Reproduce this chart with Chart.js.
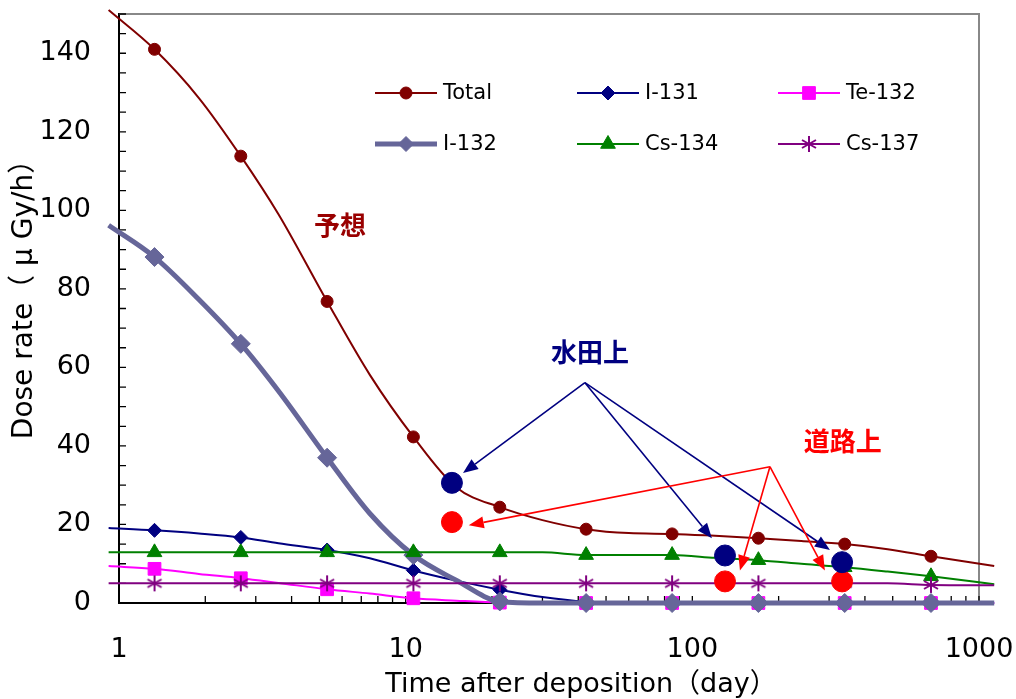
<!DOCTYPE html>
<html>
<head>
<meta charset="utf-8">
<script src="https://cdn.jsdelivr.net/npm/chart.js@4.4.0/dist/chart.umd.min.js"></script>
<style>
  html, body { margin: 0; padding: 0; background: #fff; }
  #wrap { width: 1016px; height: 699px; }
</style>
</head>
<body>
<div id="wrap"><canvas id="doseChart"></canvas></div>
<script>
// days after deposition (line points; markers only on some of them)
var days = [0.92, 1.33, 1.9, 2.66, 3.6, 5.32, 7.5, 10.64, 15, 21.3, 30, 42.6, 60, 85, 120, 170, 240, 340, 480, 680, 1130];
var markerIdx = [1, 3, 5, 7, 9, 11, 13, 15, 17, 19];

var total  = [151, 141, 128.6, 113.8, 99, 76.8, 58.1, 42.3, 29.5, 24.4, 21.1, 18.8, 17.8, 17.6, 17.1, 16.5, 15.8, 15.0, 13.7, 11.9, 9.4];
var i131   = [19.1, 18.5, 17.7, 16.7, 15.2, 13.5, 11.4, 8.3, 5.7, 3.4, 1.5, 0.3, 0, 0, 0, 0, 0, 0, 0, 0, 0];
var te132  = [9.4, 8.7, 7.4, 6.3, 5.1, 3.5, 2.4, 1.2, 0.6, 0.1, 0, 0, 0, 0, 0, 0, 0, 0, 0, 0, 0];
var i132   = [96.2, 88.1, 77.3, 66, 54, 37, 22.8, 12.2, 5.8, 0.4, 0, 0, 0, 0, 0, 0, 0, 0, 0, 0, 0];
var cs134  = [12.9, 12.9, 12.9, 12.9, 12.9, 12.9, 12.9, 12.9, 12.9, 12.9, 12.9, 12.2, 12.2, 12.2, 11.5, 10.9, 10.0, 9.1, 8.0, 6.8, 4.8];
var cs137  = [5.0, 5.0, 5.0, 5.0, 5.0, 5.0, 5.0, 5.0, 5.0, 5.0, 5.0, 5.0, 5.0, 5.0, 5.0, 5.0, 5.0, 5.0, 5.0, 4.6, 4.5];

// measured values
var obsDays = [14.5, 130, 333];
var paddy   = [30.6, 12.1, 10.4];   // 水田上
var road    = [20.6, 5.5, 5.5];     // 道路上

var xTicks = [1, 10, 100, 1000];
var yTicks = [0, 20, 40, 60, 80, 100, 120, 140];

// annotations in data coordinates
var notes = [
  { text: '予想', x: 5.9, y: 96.2, color: '#990000' },
  { text: '水田上', x: 44, y: 64, color: '#000080' },
  { text: '道路上', x: 335, y: 41.3, color: '#FF0000' }
];
var paddyFrom = [42.2, 56.1];
var paddyTo = [[15.85, 33.1], [117, 16.5], [302, 13.5]];
var roadFrom = [186.5, 34.7];
var roadTo = [[16.6, 19.8], [146.6, 8.3], [290, 8.3]];

var numFont = '"DejaVu Sans", "Noto Sans CJK JP", sans-serif';
var jpFont = '"Noto Sans CJK JP", "DejaVu Sans", sans-serif';

// excel-like asterisk marker
var starImg = document.createElement('canvas');
starImg.width = 18; starImg.height = 18;
(function() {
  var c = starImg.getContext('2d');
  c.strokeStyle = '#800080';
  c.lineWidth = 2;
  c.beginPath();
  c.moveTo(9, 1); c.lineTo(9, 17);
  c.moveTo(2, 5); c.lineTo(16, 13);
  c.moveTo(2, 13); c.lineTo(16, 5);
  c.stroke();
})();

function series(label, values, color, style, radius, width, order) {
  return {
    label: label,
    data: days.map(function(d, i) { return { x: d, y: values[i] }; }),
    borderColor: color,
    backgroundColor: color,
    borderWidth: width,
    pointStyle: style,
    pointRadius: days.map(function(d, i) { return markerIdx.indexOf(i) >= 0 ? radius : 0; }),
    pointBorderWidth: 1,
    pointHoverRadius: 0,
    cubicInterpolationMode: 'monotone',
    clip: false,
    order: order
  };
}

function observed(label, values, color) {
  return {
    label: label,
    data: obsDays.map(function(d, i) { return { x: d, y: values[i] }; }),
    showLine: false,
    backgroundColor: color,
    borderColor: color,
    pointRadius: 10.5,
    pointHoverRadius: 10.5,
    clip: false,
    order: 0
  };
}

var datasets = [
  series('Total', total, '#800000', 'circle', 6, 2, 7),
  series('I-131', i131, '#000080', 'rectRot', 7, 2, 6),
  series('Te-132', te132, '#FF00FF', 'rect', 9, 2, 5),
  series('I-132', i132, '#666699', 'rectRot', 9.5, 5, 4),
  series('Cs-134', cs134, '#008000', 'triangle', 8.5, 2, 3),
  series('Cs-137', cs137, '#800080', starImg, 8, 2, 2),
  observed('水田上', paddy, '#000080'),
  observed('道路上', road, '#FF0000')
];

var legendPos = [
  { idx: 0, x: 375, y: 93 }, { idx: 1, x: 577, y: 93 }, { idx: 2, x: 778, y: 93 },
  { idx: 3, x: 375, y: 144 }, { idx: 4, x: 577, y: 144 }, { idx: 5, x: 778, y: 144 }
];

function drawArrow(ctx, x1, y1, x2, y2, color) {
  var ang = Math.atan2(y2 - y1, x2 - x1);
  var hl = 15, hw = 6;
  var bx = x2 - hl * Math.cos(ang), by = y2 - hl * Math.sin(ang);
  ctx.strokeStyle = color;
  ctx.fillStyle = color;
  ctx.lineWidth = 1.6;
  ctx.beginPath();
  ctx.moveTo(x1, y1);
  ctx.lineTo(bx, by);
  ctx.stroke();
  ctx.beginPath();
  ctx.moveTo(x2, y2);
  ctx.lineTo(bx + hw * Math.sin(ang), by - hw * Math.cos(ang));
  ctx.lineTo(bx - hw * Math.sin(ang), by + hw * Math.cos(ang));
  ctx.closePath();
  ctx.fill();
}

var framePlugin = {
  id: 'frame',
  beforeDatasetsDraw: function(chart) {
    var ctx = chart.ctx, a = chart.chartArea;
    var X = chart.scales.x, Y = chart.scales.y;
    ctx.save();
    // gray top/right frame
    ctx.strokeStyle = '#888888';
    ctx.lineWidth = 2;
    ctx.beginPath();
    ctx.moveTo(a.left, a.top); ctx.lineTo(a.right, a.top); ctx.lineTo(a.right, a.bottom);
    ctx.stroke();
    // inward ticks
    ctx.strokeStyle = '#000';
    ctx.lineWidth = 1.3;
    ctx.beginPath();
    for (var v = 5; v <= 150; v += 5) {
      var py = Y.getPixelForValue(v);
      ctx.moveTo(a.left, py); ctx.lineTo(a.left + 7, py);
    }
    for (var k = 1; k <= 100; k *= 10) {
      for (var m = 2; m <= 10; m++) {
        var px = X.getPixelForValue(m * k);
        ctx.moveTo(px, a.bottom); ctx.lineTo(px, a.bottom - 7);
      }
    }
    ctx.stroke();
    ctx.restore();
  },
  afterDraw: function(chart) {
    var ctx = chart.ctx, a = chart.chartArea;
    var X = chart.scales.x, Y = chart.scales.y;
    ctx.save();
    // axis titles (placed as in the original, not centred)
    ctx.font = '27px ' + numFont;
    ctx.fillStyle = '#000';
    ctx.textAlign = 'center';
    ctx.textBaseline = 'middle';
    ctx.fillText('Time after deposition（day）', (a.left + a.right) / 2 + 32, a.bottom + 82);
    ctx.save();
    ctx.translate(25, (a.top + a.bottom) / 2 - 16);
    ctx.rotate(-Math.PI / 2);
    ctx.font = '28px ' + numFont;
    ctx.fillText('Dose rate（ μ Gy/h）', 0, 0);
    ctx.restore();
    // legend
    ctx.font = '21px ' + numFont;
    ctx.textAlign = 'left';
    legendPos.forEach(function(p) {
      var ds = chart.data.datasets[p.idx];
      ctx.strokeStyle = ds.borderColor;
      ctx.lineWidth = ds.borderWidth;
      ctx.beginPath();
      ctx.moveTo(p.x, p.y); ctx.lineTo(p.x + 62, p.y);
      ctx.stroke();
      ctx.fillStyle = ds.backgroundColor;
      ctx.lineWidth = 1;
      var r = ds.pointRadius[markerIdx[0]];
      Chart.helpers.drawPoint(ctx, { pointStyle: ds.pointStyle, rotation: 0, radius: p.idx === 3 ? 7.5 : r, borderWidth: 1 }, p.x + 31, p.y);
      ctx.fillStyle = '#000';
      ctx.fillText(ds.label, p.x + 68, p.y + 1);
    });
    // arrows
    paddyTo.forEach(function(t) {
      drawArrow(ctx, X.getPixelForValue(paddyFrom[0]), Y.getPixelForValue(paddyFrom[1]),
        X.getPixelForValue(t[0]), Y.getPixelForValue(t[1]), '#000080');
    });
    roadTo.forEach(function(t) {
      drawArrow(ctx, X.getPixelForValue(roadFrom[0]), Y.getPixelForValue(roadFrom[1]),
        X.getPixelForValue(t[0]), Y.getPixelForValue(t[1]), '#FF0000');
    });
    // labels
    ctx.font = 'bold 26px ' + jpFont;
    ctx.textAlign = 'center';
    notes.forEach(function(n) {
      ctx.fillStyle = n.color;
      ctx.fillText(n.text, X.getPixelForValue(n.x), Y.getPixelForValue(n.y));
    });
    ctx.restore();
  }
};

new Chart(document.getElementById('doseChart'), {
  type: 'line',
  data: { datasets: datasets },
  options: {
    responsive: true,
    maintainAspectRatio: false,
    animation: false,
    devicePixelRatio: 1,
    layout: { autoPadding: false, padding: { left: 0, right: 37, top: 14, bottom: 0 } },
    plugins: {
      legend: { display: false },
      tooltip: { enabled: false }
    },
    scales: {
      x: {
        type: 'logarithmic',
        min: 1,
        max: 1000,
        afterBuildTicks: function(scale) { scale.ticks = xTicks.map(function(v) { return { value: v }; }); },
        afterFit: function(scale) {
          scale.height = 96;
          scale.paddingLeft = 0; scale.paddingRight = 0;
        },
        grid: { display: false, drawTicks: false },
        border: { display: true, color: '#000', width: 2 },
        ticks: {
          autoSkip: false,
          maxRotation: 0,
          padding: 31,
          color: '#000',
          font: { family: numFont, size: 27 },
          callback: function(v) { return String(v); }
        },
        title: { display: false }
      },
      y: {
        min: 0,
        max: 150,
        afterBuildTicks: function(scale) { scale.ticks = yTicks.map(function(v) { return { value: v }; }); },
        afterFit: function(scale) {
          scale.width = 119;
          scale.paddingTop = 0; scale.paddingBottom = 0;
        },
        grid: { display: false, drawTicks: false },
        border: { display: true, color: '#000', width: 2 },
        ticks: {
          padding: 28,
          color: '#000',
          font: { family: numFont, size: 27 }
        },
        title: { display: false }
      }
    }
  },
  plugins: [framePlugin]
});
</script>
</body>
</html>
